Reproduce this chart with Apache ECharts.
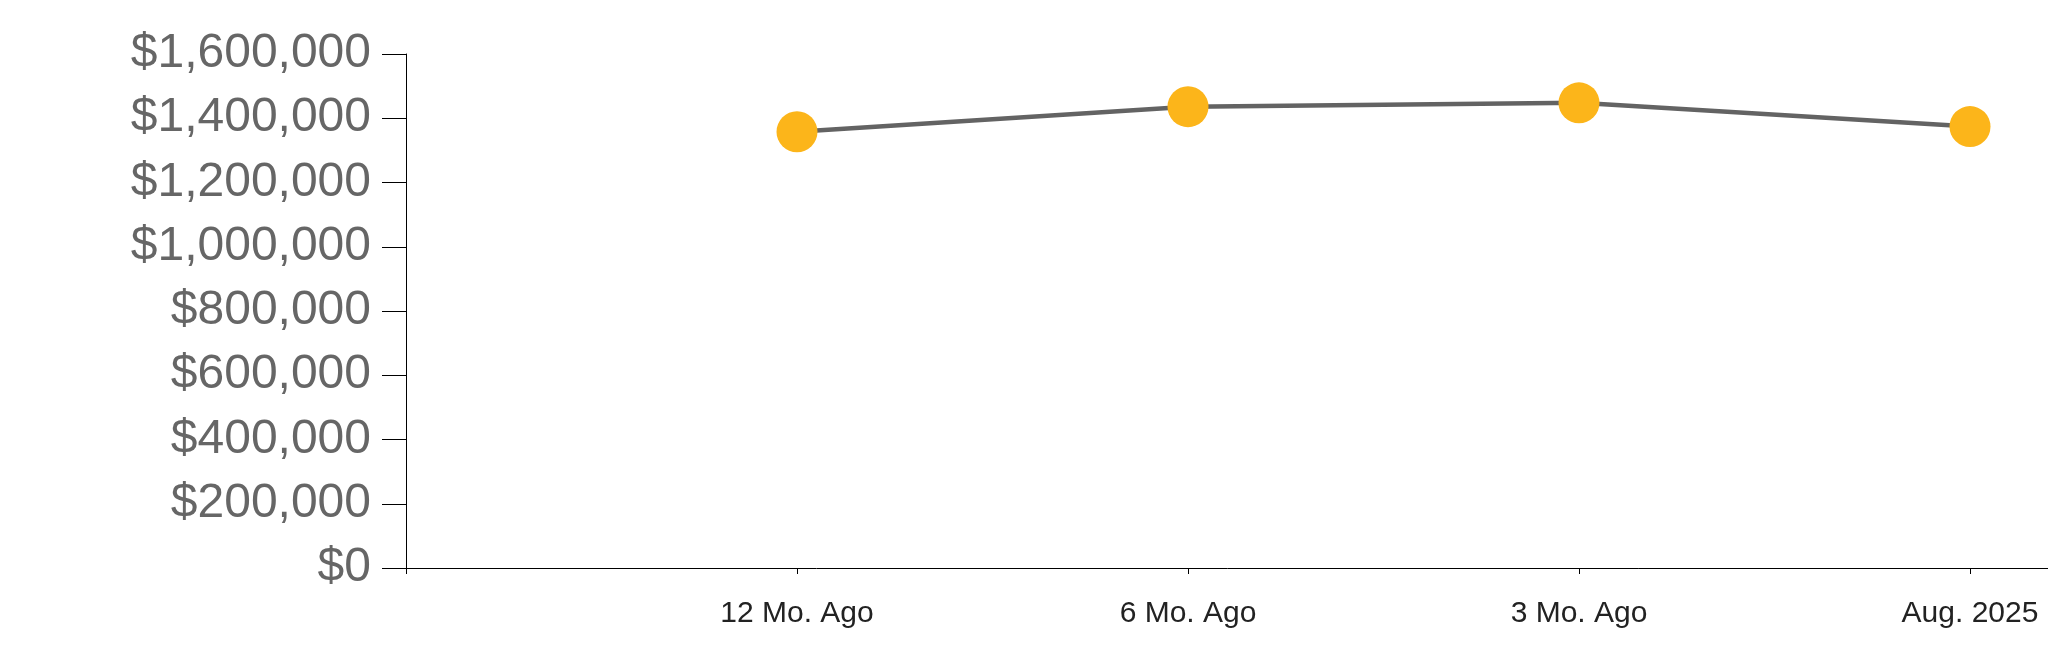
<!DOCTYPE html>
<html>
<head>
<meta charset="utf-8">
<script src="https://cdn.jsdelivr.net/npm/echarts@6/dist/echarts.min.js"></script>
<style>
html,body{margin:0;padding:0;background:#fff;}
#chart{width:2048px;height:663px;}
</style>
</head>
<body>
<div id="chart"></div>
<script>
// Categories: leading and trailing blanks give the axis its start and overhang
const categories = ["", "12 Mo. Ago", "6 Mo. Ago", "3 Mo. Ago", "Aug. 2025", ""];
const values = [null, 1358000, 1436000, 1448000, 1374000, null];
const yMin = 0, yMax = 1600000, yStep = 200000;

const chart = echarts.init(document.getElementById('chart'), null, {renderer: 'canvas'});
chart.setOption({
  animation: false,
  grid: {left: 406, top: 54, height: 514, width: 1955, containLabel: false, outerBoundsMode: 'none'},
  xAxis: {
    type: 'category',
    data: categories,
    boundaryGap: false,
    axisLine: {lineStyle: {color: '#000', width: 1}},
    axisTick: {show: true, length: 6, lineStyle: {color: '#000'}, alignWithLabel: true},
    axisLabel: {
      interval: 0,
      fontFamily: 'Liberation Sans, Arial, sans-serif',
      fontSize: 30,
      color: '#222',
      margin: 31
    },
    splitLine: {show: false}
  },
  yAxis: {
    type: 'value',
    min: yMin, max: yMax, interval: yStep,
    axisLine: {show: true, lineStyle: {color: '#000', width: 1}},
    axisTick: {show: true, length: 24, lineStyle: {color: '#000'}},
    axisLabel: {
      fontFamily: 'Liberation Sans, Arial, sans-serif',
      fontSize: 48,
      color: '#666',
      margin: 35,
      formatter: v => '$' + v.toLocaleString('en-US')
    },
    splitLine: {show: false}
  },
  series: [{
    type: 'line',
    data: values,
    connectNulls: false,
    lineStyle: {color: '#636363', width: 4.5},
    symbol: 'circle',
    symbolSize: 41,
    itemStyle: {color: '#FCB51A', borderWidth: 0},
    z: 3
  }]
});
</script>
</body>
</html>
